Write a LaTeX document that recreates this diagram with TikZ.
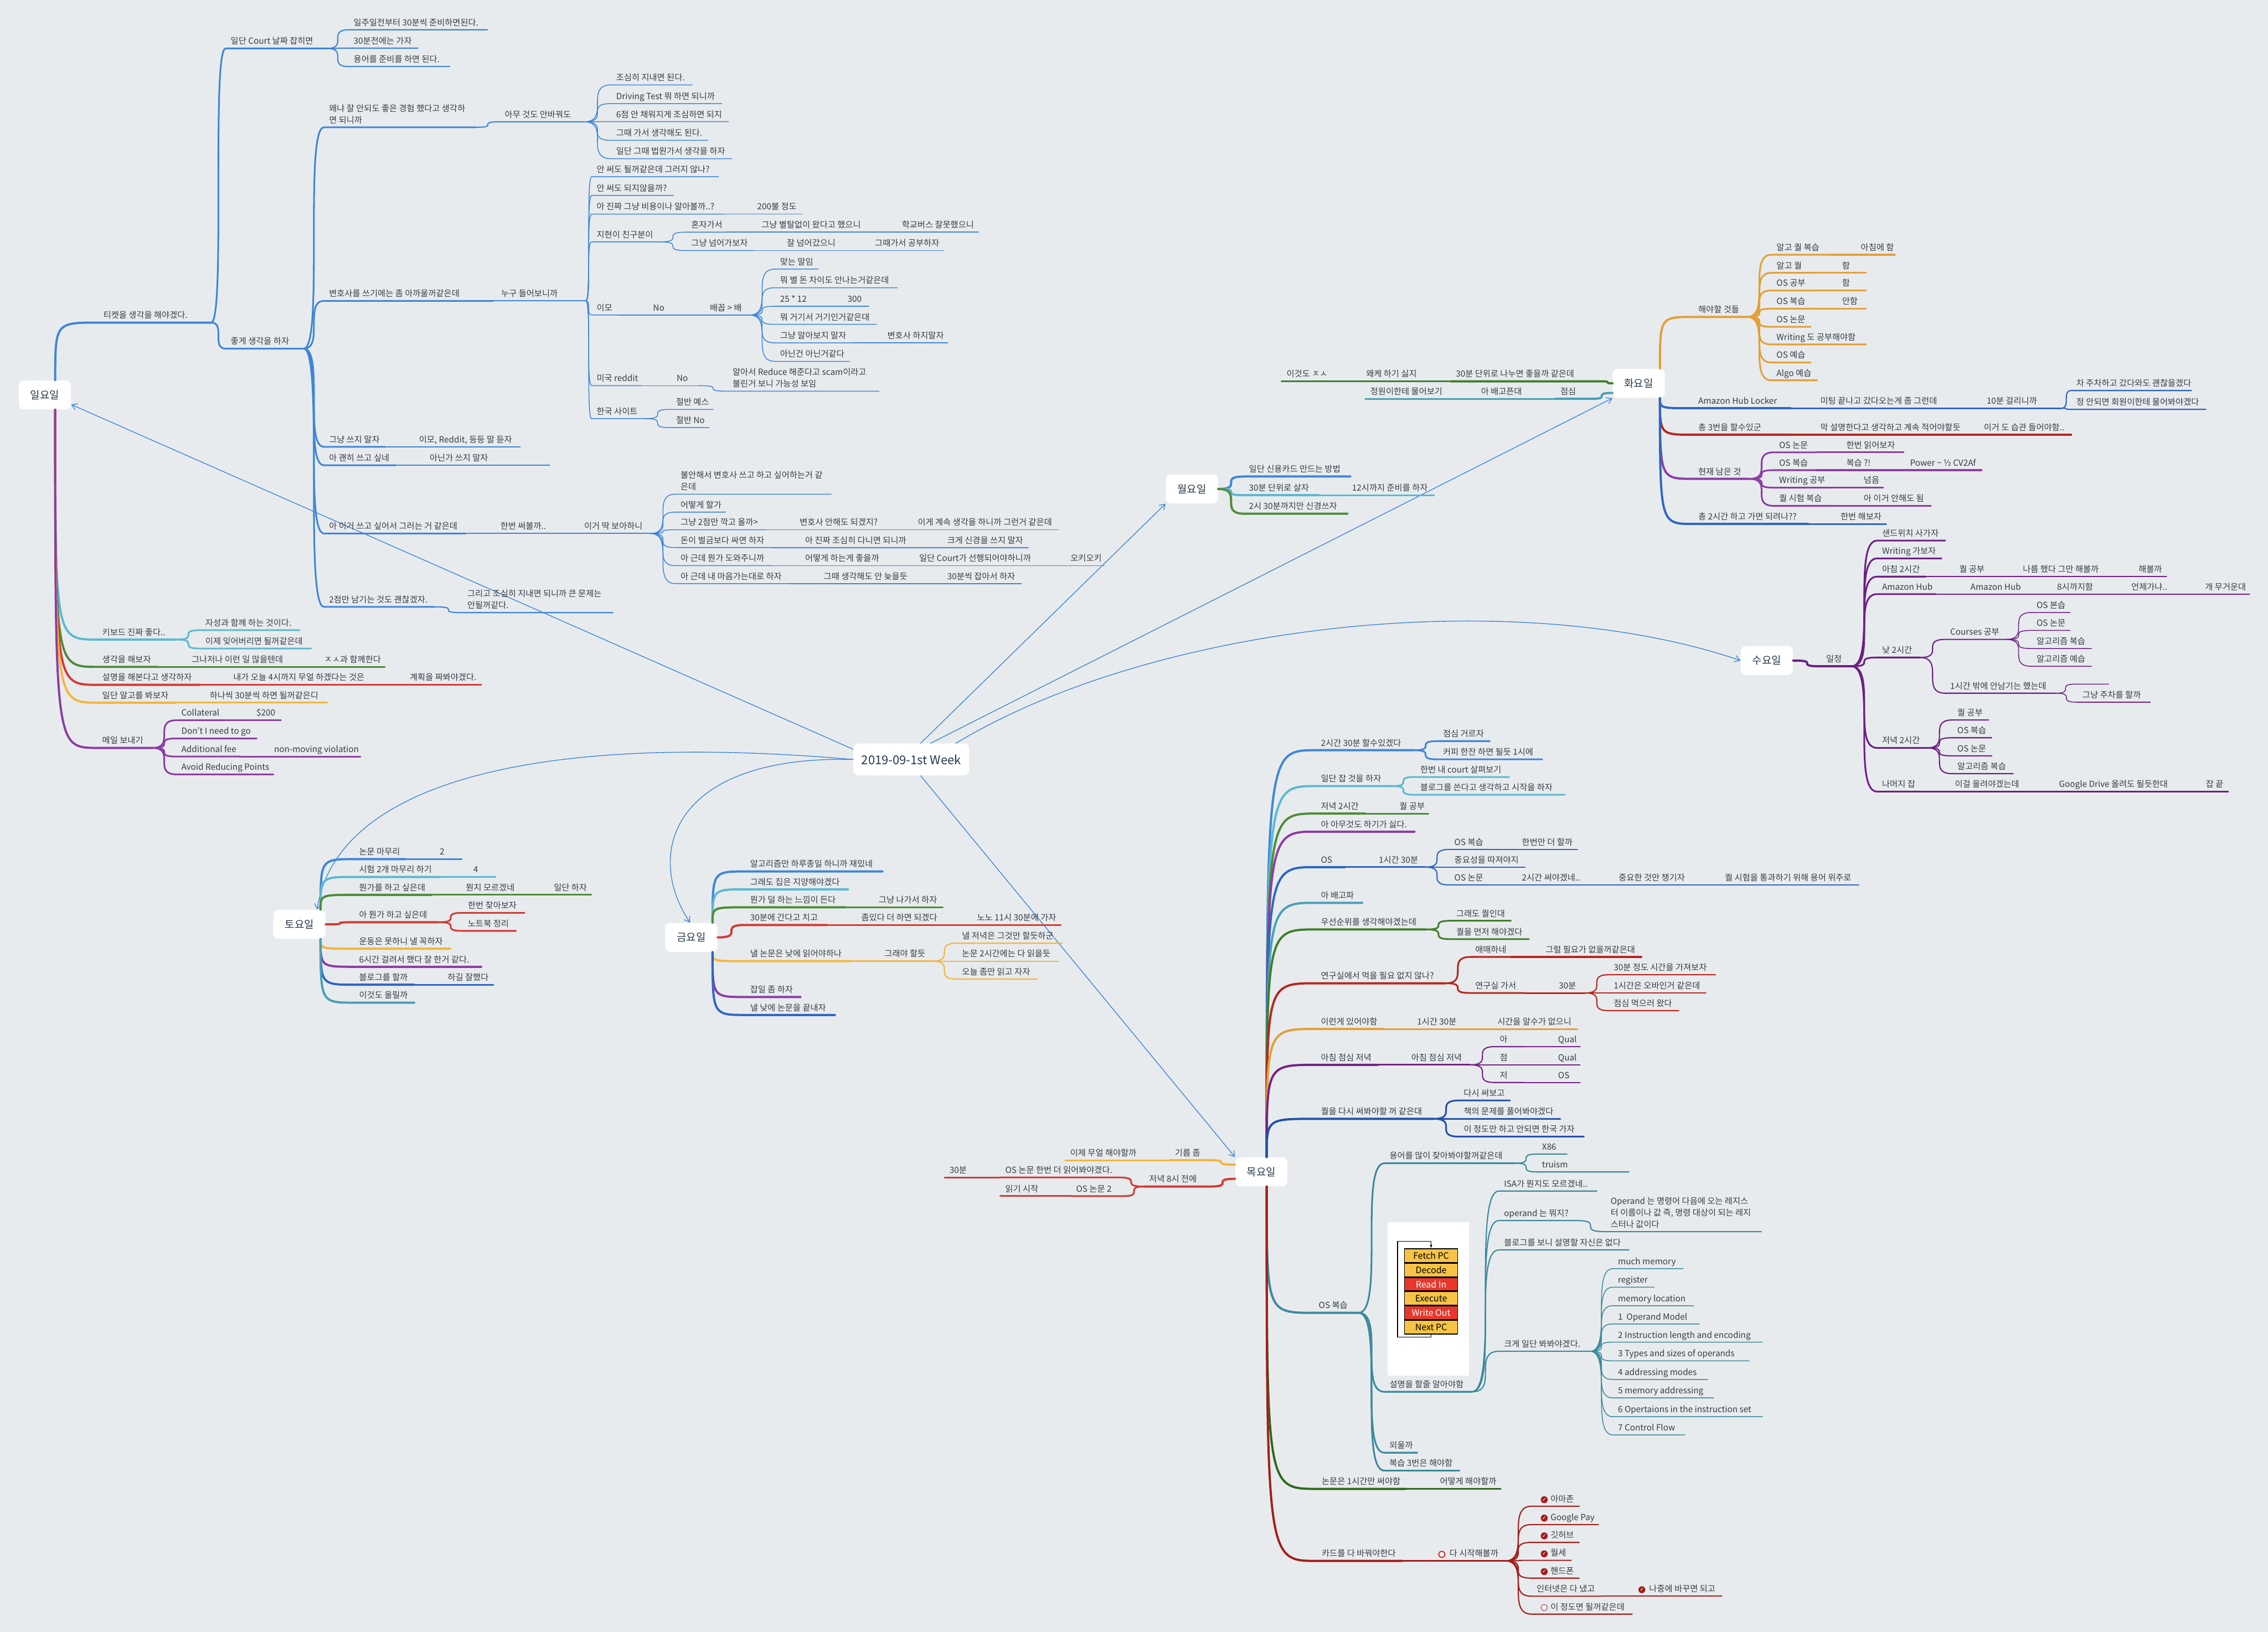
\documentclass[tikz,border=0pt]{standalone}
\usepackage{fontspec}
\setmainfont{Noto Sans CJK KR}
\newfontfamily\symf{DejaVu Sans}
\usepackage{tikz}
\usetikzlibrary{arrows.meta, positioning, calc}
\usepackage{xcolor}
\definecolor{bg}{HTML}{E8EBEE}
\definecolor{ink}{HTML}{353C44}
\definecolor{dayink}{HTML}{27394B}
\definecolor{kblue}{HTML}{3F86D8}
\definecolor{kcyan}{HTML}{5BB9D0}
\definecolor{kgreen}{HTML}{4E8C38}
\definecolor{kred}{HTML}{D23B34}
\definecolor{korange}{HTML}{F3B63E}
\definecolor{kpurple}{HTML}{8C3DA2}
\definecolor{kdblue}{HTML}{2E67C2}
\definecolor{kteal}{HTML}{47A0B6}
\definecolor{torange}{HTML}{E2A037}
\definecolor{tred}{HTML}{B8261E}
\definecolor{tgreen}{HTML}{3E7F2E}
\definecolor{wpurple}{HTML}{6D1F84}
\definecolor{hgreen}{HTML}{3F7F2A}
\definecolor{hpurple}{HTML}{742386}
\definecolor{hdblue}{HTML}{2352A8}
\definecolor{hteal}{HTML}{3A8A9C}
\definecolor{hdgreen}{HTML}{2D6A1E}
\definecolor{hdred}{HTML}{A31F1A}
\definecolor{forange}{HTML}{F6C344}
\definecolor{fred}{HTML}{E8372B}

% topic: line style, from, name, x, y, x end, text
\newcommand\topic[7]{%
  \coordinate (#3s) at (#4,#5);
  \coordinate (#3e) at (#6,#5);
  \node[tp] (#3) at (#3s) {#7};
  \draw[br,#1] (#2) to (#3s) -- (#3e);}
% left-hand topic
\newcommand\ltopic[7]{%
  \coordinate (#3s) at (#4,#5);
  \coordinate (#3e) at (#6,#5);
  \node[tp] (#3) at (#3s) {#7};
  \draw[br,#1] (#2) to (#3e) -- (#3s);}

\begin{document}
\begin{tikzpicture}[
  x=0.03cm, y=-0.03cm,
  line cap=round,
  tp/.style   = {anchor=south west, inner xsep=2.8pt, inner ysep=1.3pt,
                 text depth=0.1em, align=left, text=ink,
                 font=\fontsize{5}{6.9}\selectfont},
  day/.style  = {rectangle, rounded corners=3pt, fill=white,
                 minimum width=1.08cm, minimum height=0.6cm,
                 text=dayink, font=\fontsize{6.2}{7}\selectfont},
  root/.style = {day, minimum width=2.4cm, minimum height=0.66cm,
                 font=\fontsize{7.2}{8}\selectfont},
  br/.style   = {to path={.. controls (\tikztostart -| \tikztotarget)
                 and (\tikztotarget -| \tikztostart) .. (\tikztotarget)}},
  dv/.style   = {to path={.. controls (\tikztostart |- \tikztotarget)
                 .. (\tikztotarget)}},
  w1/.style   = {line width=1.3pt},
  w2/.style   = {line width=1pt},
  w3/.style   = {line width=0.7pt},
  w4/.style   = {line width=0.5pt},
  arr/.style  = {-{Straight Barb[length=3pt,width=4pt]}, line width=0.45pt, kblue},
  chk/.style  = {circle, fill=hdred, text=white, inner sep=0pt,
                 minimum size=0.145cm, font=\symf\fontsize{3}{3}\selectfont},
  ring/.style = {circle, draw=hdred, fill=white, line width=0.3pt,
                 inner sep=0pt, minimum size=0.13cm},
  fbox/.style = {rectangle, draw=black, line width=0.5pt, fill=#1,
                 minimum width=1.1cm, minimum height=0.28cm, inner sep=0pt,
                 font=\fontsize{5.2}{6}\selectfont}
]
\fill[bg] (0,0) rectangle (1568,1128);
\useasboundingbox (0,0) rectangle (1568,1128);

\node[root] (root) at (630,525) {2019-09-1st Week};
\node[day] (sun) at (31,273) {일요일};
\node[day] (sat) at (207,639) {토요일};
\node[day] (fri) at (478,648) {금요일};
\node[day] (mon) at (824,338) {월요일};
\node[day] (tue) at (1133,265) {화요일};
\node[day] (wed) at (1221.5,456.6) {수요일};
\node[day] (thu) at (872,810) {목요일};

\draw[arr] (root.170) -- (sun.-20);
\draw[arr] (root.west) .. controls (360,505) and (232,545) .. (sat.40);
\draw[arr] (root.west) .. controls (465,522) and (445,590) .. (fri.95);
\draw[arr] (root.-60) -- (thu.north west);
\draw[arr] (root.60) -- (mon.south west);
\draw[arr] (root.40) -- (tue.south west);
\draw[arr] (root.20) .. controls (800,430) and (1049,404) .. (wed.west);

% Sunday
\topic{w1,kblue,dv}{sun.55}{su1}{68}{223}{146}{티켓을 생각을 해야겠다.}
\topic{w2,kblue}{su1e}{su11}{156}{33.5}{226}{일단 Court 날짜 잡히면}
\topic{w3,kblue}{su11e}{su111}{241}{20.6}{337}{일주일전부터 30분씩 준비하면된다.}
\topic{w3,kblue}{su11e}{su112}{241}{33.3}{289}{30분전에는 가자}
\topic{w3,kblue}{su11e}{su113}{241}{46}{311}{용어를 준비를 하면 된다.}
\topic{w2,kblue}{su1e}{su12}{156}{241}{210}{좋게 생각을 하자}
\topic{w2,kblue}{su12e}{su121}{224}{88}{329}{왜냐 잘 안되도 좋은 경험 했다고 생각하\\면 되니까}
\topic{w3,kblue}{su121e}{su1211}{345.5}{84.2}{403.6}{아무 것도 안바꿔도}
\topic{w4,kblue}{su1211e}{am1}{422.5}{58.7}{478.6}{조심히 지내면 된다.}
\topic{w4,kblue}{su1211e}{am2}{422.5}{71.6}{499}{Driving Test 뭐 하면 되니까}
\topic{w4,kblue}{su1211e}{am3}{422.5}{84.1}{503.7}{6점 안 채워지게 조심하면 되지}
\topic{w4,kblue}{su1211e}{am4}{422.5}{97}{489.4}{그때 가서 생각해도 된다.}
\topic{w4,kblue}{su1211e}{am5}{422.5}{109.7}{506}{일단 그때 법원가서 생각을 하자}
\topic{w2,kblue}{su12e}{su122}{224}{208}{341}{변호사를 쓰기에는 좀 아까울꺼같은데}
\topic{w3,kblue}{su122e}{nu}{343}{208}{405}{누구 들어보니까}
\topic{w4,kblue}{nue}{nu1}{409}{122.2}{496.8}{안 써도 될꺼같은데 그러지 않나?}
\topic{w4,kblue}{nue}{nu2}{409}{135.1}{465.6}{안 써도 되지않을까?}
\topic{w4,kblue}{nue}{nu3}{409}{148}{500.4}{아 진짜 그냥 비용이나 알아볼까..?}
\topic{w4,kblue}{nu3e}{nu31}{520}{148}{554.6}{200불 정도}
\topic{w4,kblue}{nue}{nu4}{409}{167.2}{456}{지현이 친구분이}
\topic{w4,kblue}{nu4e}{nu41}{474.4}{160.5}{502}{혼자가서}
\topic{w4,kblue}{nu41e}{nu411}{523}{160.5}{600}{그냥 별탈없이 왔다고 했으니}
\topic{w4,kblue}{nu411e}{nu412}{620}{160.5}{676.5}{학교버스 잘못했으니}
\topic{w4,kblue}{nu4e}{nu42}{474.4}{173.2}{521}{그냥 넘어가보자}
\topic{w4,kblue}{nu42e}{nu421}{540.5}{173.2}{581}{잘 넘어갔으니}
\topic{w4,kblue}{nu421e}{nu422}{601.4}{173.2}{652.4}{그때가서 공부하자}
\topic{w4,kblue}{nue}{nu5}{409}{217.8}{428}{이모}
\topic{w4,kblue}{nu5e}{nu51}{448}{217.8}{465}{No}
\topic{w4,kblue}{nu51e}{nu52}{487.3}{217.8}{518}{배꼽 > 배}
\topic{w4,kblue}{nu52e}{bb1}{535.8}{186}{565.6}{맞는 말임}
\topic{w4,kblue}{nu52e}{bb2}{535.8}{198.9}{620.4}{뭐 별 돈 차이도 안나는거같은데}
\topic{w4,kblue}{nu52e}{bb3}{535.8}{211.7}{562}{25 * 12}
\topic{w4,kblue}{bb3e}{bb31}{582.4}{211.7}{600.6}{300}
\topic{w4,kblue}{nu52e}{bb4}{535.8}{224.2}{606}{뭐 거기서 거기인거같은대}
\topic{w4,kblue}{nu52e}{bb5}{535.8}{237}{590}{그냥 알아보지 말자}
\topic{w4,kblue}{bb5e}{bb51}{610}{237}{655.2}{변호사 하지말자}
\topic{w4,kblue}{nu52e}{bb6}{535.8}{249.8}{587.5}{아닌건 아닌거같다}
\topic{w4,kblue}{nue}{nu6}{409}{266.6}{443.6}{미국 reddit}
\topic{w4,kblue}{nu6e}{nu61}{464.3}{266.6}{483}{No}
\topic{w4,kblue}{nu61e}{nu62}{503}{270.4}{607.7}{알아서 Reduce 해준다고 scam이라고\\불린거 보니 가능성 보임}
\topic{w4,kblue}{nue}{nu7}{409}{289.4}{445.5}{한국 사이트}
\topic{w4,kblue}{nu7e}{nu71}{463.8}{283}{493}{절반 예스}
\topic{w4,kblue}{nu7e}{nu72}{463.8}{295.6}{490.3}{절반 No}
\topic{w2,kblue}{su12e}{su123}{224}{308.9}{266.3}{그냥 쓰지 말자}
\topic{w3,kblue}{su123e}{su1231}{286.2}{308.9}{359.7}{이모, Reddit, 등등 말 듣자}
\topic{w2,kblue}{su12e}{su124}{224}{321.6}{273.7}{아 괜히 쓰고 싶네}
\topic{w3,kblue}{su124e}{su1241}{293.6}{321.6}{380}{아닌가 쓰지 말자}
\topic{w2,kblue}{su12e}{su125}{224}{368.8}{321.8}{아 이거 쓰고 싶어서 그러는 거 같은데}
\topic{w3,kblue}{su125e}{su1251}{342.5}{368.8}{380}{한번 써볼까..}
\topic{w3,kblue}{su1251e}{bo}{400.4}{368.8}{449.7}{이거 딱 보아하니}
\topic{w4,kblue}{boe}{bo1}{467}{341.6}{574.7}{불안해서 변호사 쓰고 하고 싶어하는거 같\\은데}
\topic{w4,kblue}{boe}{bo2}{467}{354}{501.6}{어떻게 할가}
\topic{w4,kblue}{boe}{bo3}{467}{366.2}{530}{그냥 2점만 깍고 올까>}
\topic{w4,kblue}{bo3e}{bo31}{549.4}{366.2}{612}{변호사 안해도 되겠지?}
\topic{w4,kblue}{bo31e}{bo32}{631}{366.2}{732}{이게 계속 생각을 하니까 그런거 같은데}
\topic{w4,kblue}{boe}{bo4}{467}{378.5}{534}{돈이 벌금보다 싸면 하자}
\topic{w4,kblue}{bo4e}{bo41}{553.1}{378.5}{632}{아 진짜 조심히 다니면 되니까}
\topic{w4,kblue}{bo41e}{bo42}{651.4}{378.5}{711}{크게 신경을 쓰지 말자}
\topic{w4,kblue}{boe}{bo5}{467}{391}{534}{아 근데 뭔가 도와주니까}
\topic{w4,kblue}{bo5e}{bo51}{553.1}{391}{612}{어떻게 하는게 좋을까}
\topic{w4,kblue}{bo51e}{bo52}{632}{391}{717}{일단 Court가 선행되어야하니까}
\topic{w4,kblue}{bo52e}{bo53}{736.6}{391}{763.6}{오키오키}
\topic{w4,kblue}{boe}{bo6}{467}{403.4}{546}{아 근데 내 마음가는대로 하자}
\topic{w4,kblue}{bo6e}{bo61}{566}{403.4}{632}{그때 생각해도 안 늦을듯}
\topic{w4,kblue}{bo61e}{bo62}{651.4}{403.4}{706.2}{30분씩 잡아서 하자}
\topic{w2,kblue}{su12e}{su126}{224}{419.5}{300.4}{2점만 남기는 것도 괜찮겠자.}
\topic{w3,kblue}{su126e}{su1261}{319.6}{423.5}{423.8}{그리고 조심히 지내면 되니까 큰 문제는\\안될꺼같다.}
\topic{w1,kcyan,dv}{sun.-55}{su2}{67.2}{442.1}{121.9}{키보드 진짜 좋다..}
\topic{w2,kcyan}{su2e}{su21}{138.5}{435.6}{207.2}{자성과 함께 하는 것이다.}
\topic{w2,kcyan}{su2e}{su22}{138.5}{448.3}{215.1}{이제 잊어버리면 될꺼같은데}
\topic{w1,kgreen,dv}{sun.-55}{su3}{67.2}{461}{109}{생각을 해보자}
\topic{w2,kgreen}{su3e}{su31}{129}{461}{200}{그나저나 이런 일 많을텐데}
\topic{w2,kgreen}{su31e}{su32}{220.8}{461}{266.1}{ㅈㅅ과 함께한다}
\topic{w1,kred,dv}{sun.-55}{su4}{67.2}{473.4}{138.2}{설명을 해본다고 생각하자}
\topic{w2,kred}{su4e}{su41}{157.8}{473.4}{259.6}{내가 오늘 4시까지 무얼 하겠다는 것은}
\topic{w2,kred}{su41e}{su42}{279.8}{473.4}{332.7}{계획을 짜봐야겠다.}
\topic{w1,korange,dv}{sun.-55}{su5}{67.2}{485.7}{121.5}{일단 알고를 봐보자}
\topic{w2,korange}{su5e}{su51}{141.5}{485.7}{226.2}{하나씩 30분씩 하면 될꺼같은디}
\topic{w1,kpurple,dv}{sun.-55}{su6}{67.2}{517}{105.2}{메일 보내기}
\topic{w2,kpurple}{su6e}{su61}{121.9}{497.9}{153.4}{Collateral}
\topic{w2,kpurple}{su61e}{su611}{173.8}{497.9}{194.2}{\$200}
\topic{w2,kpurple}{su6e}{su62}{121.9}{510.5}{177.5}{Don't I need to go}
\topic{w2,kpurple}{su6e}{su63}{121.9}{523}{166}{Additional fee}
\topic{w2,kpurple}{su63e}{su631}{186}{523}{249.2}{non-moving violation}
\topic{w2,kpurple}{su6e}{su64}{121.9}{535.3}{189}{Avoid Reducing Points}

% Saturday
\topic{w1,kblue,dv}{sat.35}{sa1}{244.8}{593.9}{280.4}{논문 마무리}
\topic{w2,kblue}{sa1e}{sa11}{300.5}{593.9}{319.3}{2}
\topic{w1,kcyan,dv}{sat.35}{sa2}{244.8}{606.2}{304}{시험 2개 마무리 하기}
\topic{w2,kcyan}{sa2e}{sa21}{323.7}{606.2}{342.7}{4}
\topic{w1,kgreen,dv}{sat.35}{sa3}{244.8}{618.6}{298.6}{뭔가를 하고 싶은데}
\topic{w2,kgreen}{sa3e}{sa31}{318.6}{618.6}{359.3}{뭔지 모르겠네}
\topic{w2,kgreen}{sa31e}{sa32}{379.4}{618.6}{408.8}{일단 하자}
\topic{w1,kred}{sat.east}{sa4}{244.8}{637.5}{303.2}{아 뭔가 하고 싶은데}
\topic{w2,kred}{sa4e}{sa41}{320}{631}{362.6}{한번 찾아보자}
\topic{w2,kred}{sa4e}{sa42}{320}{643.5}{356.7}{노트북 정리}
\topic{w1,korange,dv}{sat.-35}{sa5}{244.8}{655.8}{311.3}{운동은 못하니 낼 꼭하자}
\topic{w1,kpurple,dv}{sat.-35}{sa6}{244.8}{668.3}{332.7}{6시간 걸려서 했다 잘 한거 같다.}
\topic{w1,kdblue,dv}{sat.-35}{sa7}{244.8}{680.7}{286.3}{블로그를 할까}
\topic{w2,kdblue}{sa7e}{sa71}{306}{680.7}{341.1}{하길 잘했다}
\topic{w1,kteal,dv}{sat.-35}{sa8}{244.8}{693.1}{286.3}{이것도 올릴까}

% Friday
\topic{w1,kblue,dv}{fri.35}{fr1}{515.1}{602.4}{610.1}{알고리즘만 하루종일 하니까 재밌네}
\topic{w1,kcyan,dv}{fri.35}{fr2}{515.1}{614.8}{586.3}{그래도 집은 지양해야겠다}
\topic{w1,kgreen,dv}{fri.35}{fr3}{515.1}{627.2}{584.3}{뭔가 덜 하는 느낌이 든다}
\topic{w2,kgreen}{fr3e}{fr31}{604}{627.2}{651.8}{그냥 나가서 하자}
\topic{w1,kred}{fri.east}{fr4}{515.1}{639.4}{571.7}{30분에 간다고 치고}
\topic{w2,kred}{fr4e}{fr41}{592}{639.4}{652}{좀있다 더 하면 되겠다}
\topic{w2,kred}{fr41e}{fr42}{672}{639.4}{733.4}{노노 11시 30분에 가자}
\topic{w1,korange,dv}{fri.-35}{fr5}{515.1}{664.4}{588}{낼 논문은 낮에 읽어야하나}
\topic{w2,korange}{fr5e}{fr51}{608}{664.4}{644.2}{그래야 할듯}
\topic{w3,korange}{fr51e}{fr511}{661.6}{652}{734.2}{낼 저녁은 그것만 할듯하군}
\topic{w3,korange}{fr51e}{fr512}{661.6}{664.4}{732}{논문 2시간에는 다 읽을듯}
\topic{w3,korange}{fr51e}{fr513}{661.6}{676.8}{717.1}{오늘 좀만 읽고 자자}
\topic{w1,kpurple,dv}{fri.-35}{fr6}{515.1}{689.2}{553.4}{잡일 좀 하자}
\topic{w1,kdblue,dv}{fri.-35}{fr7}{515.1}{701.6}{577.2}{낼 낮에 논문을 끝내자}

% Monday
\topic{w1,kblue}{mon.east}{mo1}{860}{329.4}{933.5}{일단 신용카드 만드는 방법}
\topic{w1,kcyan}{mon.east}{mo2}{860}{342.3}{911.7}{30분 단위로 살자}
\topic{w2,kcyan}{mo2e}{mo21}{931.3}{342.3}{991.5}{12시까지 준비를 하자}
\topic{w1,kgreen}{mon.east}{mo3}{860}{355.1}{931.5}{2시 30분까지만 신경쓰자}

% Tuesday
\ltopic{w1,tgreen}{tue.west}{tu1}{1003}{263.6}{1108}{30분 단위로 나누면 좋을까 같은데}
\ltopic{w2,tgreen}{tu1s}{tu11}{941}{263.6}{1003}{왜케 하기 싫지}
\ltopic{w2,tgreen}{tu11s}{tu111}{886}{263.6}{941}{이것도 ㅈㅅ}
\ltopic{w1,kteal}{tue.-160}{tu2}{1075.3}{275.7}{1100}{점심}
\ltopic{w2,kteal}{tu2s}{tu21}{1020.4}{275.7}{1075.3}{아 배고픈대}
\ltopic{w2,kteal}{tu21s}{tu211}{943.9}{275.7}{1020.4}{정원이한테 물어보기}
\topic{w1,torange,dv}{tue.35}{tu3}{1170.6}{219.1}{1208}{해야할 것들}
\topic{w2,torange}{tu3e}{tu31}{1224.7}{176.1}{1266}{알고 퀄 복습}
\topic{w2,torange}{tu31e}{tu311}{1283}{176.1}{1310}{아침에 함}
\topic{w2,torange}{tu3e}{tu32}{1224.7}{188.6}{1254}{알고 퀄}
\topic{w2,torange}{tu32e}{tu321}{1270}{188.6}{1290}{함}
\topic{w2,torange}{tu3e}{tu33}{1224.7}{200.8}{1254}{OS 공부}
\topic{w2,torange}{tu33e}{tu331}{1270}{200.8}{1290}{함}
\topic{w2,torange}{tu3e}{tu34}{1224.7}{213.4}{1254}{OS 복습}
\topic{w2,torange}{tu34e}{tu341}{1270}{213.4}{1290}{안함}
\topic{w2,torange}{tu3e}{tu35}{1224.7}{225.9}{1251.8}{OS 논문}
\topic{w2,torange}{tu3e}{tu36}{1224.7}{238.1}{1290}{Writing 도 공부해야함}
\topic{w2,torange}{tu3e}{tu37}{1224.7}{250.6}{1251.8}{OS 예습}
\topic{w2,torange}{tu3e}{tu38}{1224.7}{262.9}{1256.3}{Algo 예습}
\topic{w1,kdblue,dv}{tue.-35}{tu4}{1170.6}{282.2}{1238}{Amazon Hub Locker}
\topic{w2,kdblue}{tu4e}{tu41}{1255}{282.2}{1352}{미팅 끝나고 갔다오는게 좀 그런데}
\topic{w2,kdblue}{tu41e}{tu42}{1370}{282.2}{1425}{10분 걸리니까}
\topic{w3,kdblue}{tu42e}{tu421}{1432}{270}{1515}{차 주차하고 갔다와도 괜찮을겠다}
\topic{w3,kdblue}{tu42e}{tu422}{1432}{283}{1525}{정 안되면 회원이한테 물어봐야겠다}
\topic{w1,tred,dv}{tue.-35}{tu5}{1170.6}{300.5}{1238}{총 3번을 할수있군}
\topic{w2,tred}{tu5e}{tu51}{1255}{300.5}{1350}{막 설명한다고 생각하고 계속 적어야할듯}
\topic{w2,tred}{tu51e}{tu52}{1368}{300.5}{1432}{이거 도 습관 들어야함..}
\topic{w1,kpurple,dv}{tue.-35}{tu6}{1170.6}{331}{1209.3}{현재 남은 것}
\topic{w2,kpurple}{tu6e}{tu61}{1226.5}{312.7}{1256}{OS 논문}
\topic{w2,kpurple}{tu61e}{tu611}{1273}{312.7}{1316}{한번 읽어보자}
\topic{w2,kpurple}{tu6e}{tu62}{1226.5}{325}{1256}{OS 복습}
\topic{w2,kpurple}{tu62e}{tu621}{1273}{325}{1300}{복습 ?!}
\topic{w2,kpurple}{tu621e}{tu622}{1317}{325}{1370}{Power \textasciitilde{} ½ CV2Af}
\topic{w2,kpurple}{tu6e}{tu63}{1226.5}{337.1}{1266}{Writing 공부}
\topic{w2,kpurple}{tu63e}{tu631}{1285}{337.1}{1302}{넘음}
\topic{w2,kpurple}{tu6e}{tu64}{1226.5}{349.7}{1266}{퀄 시험 복습}
\topic{w2,kpurple}{tu64e}{tu641}{1285}{349.7}{1335}{아 이거 안해도 됨}
\topic{w1,kdblue,dv}{tue.-35}{tu7}{1170.6}{362.2}{1250}{총 2시간 하고 가면 되려나??}
\topic{w2,kdblue}{tu7e}{tu71}{1269}{362.2}{1304}{한번 해보자}

% Wednesday
\topic{w1,wpurple}{wed.east}{we1}{1259}{460.6}{1280}{일정}
\topic{w2,wpurple}{we1e}{we11}{1297.7}{373.7}{1344.8}{샌드위치 사가자}
\topic{w2,wpurple}{we1e}{we12}{1297.7}{386}{1342.2}{Writing 가보자}
\topic{w2,wpurple}{we1e}{we13}{1297.7}{398.6}{1331.3}{아침 2시간}
\topic{w3,wpurple}{we13e}{we131}{1351}{398.6}{1375.3}{퀄 공부}
\topic{w3,wpurple}{we131e}{we132}{1395}{398.6}{1455.3}{나름 했다 그만 해볼까}
\topic{w3,wpurple}{we132e}{we133}{1475}{398.6}{1497.8}{해볼까}
\topic{w2,wpurple}{we1e}{we14}{1297.7}{410.7}{1338.4}{Amazon Hub}
\topic{w3,wpurple}{we14e}{we141}{1358.8}{410.7}{1398.9}{Amazon Hub}
\topic{w3,wpurple}{we141e}{we142}{1418.7}{410.7}{1450.3}{8시까지함}
\topic{w3,wpurple}{we142e}{we143}{1470}{410.7}{1501}{언제가냐..}
\topic{w3,wpurple}{we143e}{we144}{1521}{410.7}{1555.2}{개 무거운대}
\topic{w2,wpurple}{we1e}{we15}{1297.7}{454.5}{1327.4}{낮 2시간}
\topic{w3,wpurple}{we15e}{we151}{1344.8}{442}{1386.7}{Courses 공부}
\topic{w4,wpurple}{we151e}{we1511}{1404.5}{423.4}{1431.2}{OS 본습}
\topic{w4,wpurple}{we151e}{we1512}{1404.5}{435.8}{1431.2}{OS 논문}
\topic{w4,wpurple}{we151e}{we1513}{1404.5}{448.3}{1446}{알고리즘 복습}
\topic{w4,wpurple}{we151e}{we1514}{1404.5}{460.6}{1446}{알고리즘 예습}
\topic{w3,wpurple}{we15e}{we152}{1344.8}{479.2}{1421}{1시간 밖에 안남기는 했는데}
\topic{w4,wpurple}{we152e}{we1521}{1435}{472.9}{1457.8}{}
\topic{w4,wpurple}{we152e}{we1522}{1436.2}{485.4}{1486.6}{그냥 주차를 할까}
\topic{w2,wpurple}{we1e}{we16}{1297.7}{517}{1332}{저녁 2시간}
\topic{w3,wpurple}{we16e}{we161}{1349.7}{497.7}{1374.8}{퀄 공부}
\topic{w3,wpurple}{we16e}{we162}{1349.7}{510}{1377}{OS 복습}
\topic{w3,wpurple}{we16e}{we163}{1349.7}{522.5}{1377}{OS 논문}
\topic{w3,wpurple}{we16e}{we164}{1349.7}{534.8}{1391.8}{알고리즘 복습}
\topic{w2,wpurple}{we1e}{we17}{1297.7}{547.2}{1328}{나머지 잡}
\topic{w3,wpurple}{we17e}{we171}{1348}{547.2}{1400}{이걸 올려야겠는데}
\topic{w3,wpurple}{we171e}{we172}{1420}{547.2}{1501.6}{Google Drive 올려도 될듯한대}
\topic{w3,wpurple}{we172e}{we173}{1521.5}{547.2}{1540.5}{잡 끝}

% Thursday, left side
\ltopic{w1,korange}{thu.165}{tl1}{808.8}{802}{835}{기름 좀}
\ltopic{w2,korange}{tl1s}{tl11}{736.4}{802}{808.8}{이제 무얼 해야할까}
\ltopic{w1,kred}{thu.-165}{tl2}{791}{820.2}{836.6}{저녁 8시 전에}
\ltopic{w2,kred}{tl2s}{tl21}{691.5}{813.9}{773}{OS 논문 한번 더 읽어봐야겠다.}
\ltopic{w2,kred}{tl21s}{tl211}{653}{813.9}{691.5}{30분}
\ltopic{w2,kred}{tl2s}{tl22}{740.5}{826.8}{777}{OS 논문 2}
\ltopic{w2,kred}{tl22s}{tl221}{691.5}{826.8}{740.5}{읽기 시작}

% Thursday, right side
\topic{w1,kblue,dv}{thu.70}{th3}{909.7}{518.6}{977.1}{2시간 30분 할수있겠다}
\topic{w2,kblue}{th3e}{th31}{994.1}{512.3}{1030}{점심 거르자}
\topic{w2,kblue}{th3e}{th32}{994.1}{524.9}{1066.2}{커피 한잔 하면 될듯 1시에}
\topic{w1,kcyan,dv}{thu.70}{th4}{909.7}{543.4}{962.1}{일단 잡 것을 하자}
\topic{w2,kcyan}{th4e}{th41}{978.4}{537.1}{1043.4}{한번 내 court 살펴보기}
\topic{w2,kcyan}{th4e}{th42}{978.4}{549.4}{1081.9}{블로그를 쓴다고 생각하고 시작을 하자}
\topic{w1,kgreen,dv}{thu.70}{th5}{909.7}{562.4}{944}{저녁 2시간}
\topic{w2,kgreen}{th5e}{th51}{964}{562.4}{987.6}{퀄 공부}
\topic{w1,kpurple,dv}{thu.70}{th6}{909.7}{574.9}{977.9}{아 아무것도 하기가 싫다.}
\topic{w1,kdblue,dv}{thu.70}{th7}{909.7}{599.4}{930}{OS}
\topic{w2,kdblue}{th7e}{th70}{949.7}{599.4}{985}{1시간 30분}
\topic{w3,kdblue}{th70e}{th71}{1002}{587.2}{1028.7}{OS 복습}
\topic{w3,kdblue}{th71e}{th711}{1048.7}{587.2}{1090.6}{한번만 더 할까}
\topic{w3,kdblue}{th70e}{th72}{1002}{599.4}{1054.4}{중요성을 따져야지}
\topic{w3,kdblue}{th70e}{th73}{1002}{611.7}{1028.7}{OS 논문}
\topic{w3,kdblue}{th73e}{th731}{1048.7}{611.7}{1095.6}{2시간 써야겠네..}
\topic{w3,kdblue}{th731e}{th732}{1115.6}{611.7}{1168.3}{중요한 것만 챙기자}
\topic{w3,kdblue}{th732e}{th733}{1189}{611.7}{1285}{퀄 시험을 통과하기 위해 용어 위주로}
\topic{w1,kteal,dv}{thu.70}{th8}{909.7}{624.1}{941.7}{아 배고파}
\topic{w1,hgreen,dv}{thu.70}{th9}{909.7}{642.5}{985.7}{우선순위를 생각해야겠는데}
\topic{w2,hgreen}{th9e}{th91}{1003.3}{636.5}{1044.5}{그래도 퀄인대}
\topic{w2,hgreen}{th9e}{th92}{1003.3}{649.2}{1057}{퀄을 먼저 해야겠다}
\topic{w1,tred,dv}{thu.70}{th10}{909.7}{679.7}{999.3}{연구실에서 먹을 필요 없지 않나?}
\topic{w2,tred}{th10e}{th101}{1016.4}{661.5}{1044.6}{애매하네}
\topic{w2,tred}{th101e}{th1011}{1065}{661.5}{1134.8}{그럴 필요가 없을꺼같은대}
\topic{w2,tred}{th10e}{th102}{1016.4}{686.4}{1053.9}{연구실 가서}
\topic{w2,tred}{th102e}{th1021}{1074.2}{686.4}{1095.8}{30분}
\topic{w3,tred}{th1021e}{th1022}{1112.1}{673.8}{1186}{30분 정도 시간을 가져보자}
\topic{w3,tred}{th1021e}{th1023}{1112.1}{686.4}{1179.4}{1시간은 오바인거 같은데}
\topic{w3,tred}{th1021e}{th1024}{1112.1}{698.6}{1160.5}{점심 먹으러 왔다}
\topic{w1,torange,dv}{thu.70}{th11}{909.7}{711.3}{956.7}{이런게 있어야함}
\topic{w2,torange}{th11e}{th111}{976.2}{711.3}{1011.3}{1시간 30분}
\topic{w2,torange}{th111e}{th112}{1031.7}{711.3}{1090.6}{시간을 알수가 없으니}
\topic{w1,hpurple,dv}{thu.70}{th12}{909.7}{736.1}{952.7}{아침 점심 저녁}
\topic{w2,hpurple}{th12e}{th120}{972.2}{736.1}{1016.4}{아침 점심 저녁}
\topic{w3,hpurple}{th120e}{th121}{1033.4}{723.5}{1053.2}{아}
\topic{w3,hpurple}{th121e}{th1211}{1073.7}{723.5}{1092.4}{Qual}
\topic{w3,hpurple}{th120e}{th122}{1033.4}{736.1}{1053.2}{점}
\topic{w3,hpurple}{th122e}{th1221}{1073.7}{736.1}{1092.4}{Qual}
\topic{w3,hpurple}{th120e}{th123}{1033.4}{748.3}{1053.2}{저}
\topic{w3,hpurple}{th123e}{th1231}{1073.7}{748.3}{1092.4}{OS}
\topic{w1,hdblue,dv}{thu.70}{th13}{909.7}{773.4}{991}{퀄을 다시 써봐야할 꺼 같은대}
\topic{w2,hdblue}{th13e}{th131}{1008.5}{760.7}{1044}{다시 써보고}
\topic{w2,hdblue}{th13e}{th132}{1008.5}{773.4}{1078.7}{책의 문제를 풀어봐야겠다}
\topic{w2,hdblue}{th13e}{th133}{1008.5}{785.7}{1095}{이 정도만 하고 안되면 한국 가자}
\topic{w1,hteal,dv}{thu.-70}{th14}{908.2}{907.5}{939.3}{OS 복습}
\topic{w2,hteal}{th14e}{th141}{957.2}{804.1}{1047.5}{용어를 많이 찾아봐야할꺼같은데}
\topic{w3,hteal}{th141e}{th1411}{1062.6}{797.8}{1083.3}{X86}
\topic{w3,hteal}{th141e}{th1412}{1062.6}{810.1}{1126.2}{truism}
\topic{w2,hteal}{th14e}{th142}{957.2}{962.1}{1017.6}{설명을 할줄 알아야함}
\topic{w3,hteal}{th142e}{th1421}{1036.3}{823.3}{1104}{ISA가 뭔지도 모르겠네..}
\topic{w3,hteal}{th142e}{th1422}{1036.3}{843.7}{1089.2}{operand 는 뭐지?}
\topic{w3,hteal}{th1422e}{th1423}{1110}{851.4}{1217.7}{Operand 는 명령어 다음에 오는 레지스\\터 이름이나 값 즉, 명령 대상이 되는 레지\\스터나 값이다}
\topic{w3,hteal}{th142e}{th1424}{1036.3}{864}{1126.2}{블로그를 보니 설명할 자신은 없다}
\topic{w3,hteal}{th142e}{th1425}{1036.3}{934.1}{1099.2}{크게 일단 봐봐야겠다.}
\topic{w4,hteal}{th1425e}{k1}{1115.1}{877}{1163.6}{much memory}
\topic{w4,hteal}{th1425e}{k2}{1115.1}{889.8}{1143.7}{register}
\topic{w4,hteal}{th1425e}{k3}{1115.1}{902.6}{1170.8}{memory location}
\topic{w4,hteal}{th1425e}{k4}{1115.1}{915.2}{1174.7}{1\ \ Operand Model}
\topic{w4,hteal}{th1425e}{k5}{1115.1}{927.8}{1218.5}{2 Instruction length and encoding}
\topic{w4,hteal}{th1425e}{k6}{1115.1}{940.7}{1209.3}{3 Types and sizes of operands}
\topic{w4,hteal}{th1425e}{k7}{1115.1}{953.6}{1180.7}{4 addressing modes}
\topic{w4,hteal}{th1425e}{k8}{1115.1}{966.3}{1184.7}{5 memory addressing}
\topic{w4,hteal}{th1425e}{k9}{1115.1}{979.3}{1218.5}{6 Opertaions in the instruction set}
\topic{w4,hteal}{th1425e}{k10}{1115.1}{991.9}{1164.8}{7 Control Flow}
\topic{w2,hteal}{th14e}{th143}{957.1}{1004.2}{979.9}{외울까}
\topic{w2,hteal}{th14e}{th144}{957.1}{1016.6}{1009}{복습 3번은 해야함}
\topic{w1,hdgreen,dv}{thu.-70}{th15}{910.3}{1029.2}{972}{논문은 1시간만 써야함}
\topic{w2,hdgreen}{th15e}{th151}{992}{1029.2}{1037.5}{어떻게 해야할까}
\topic{w1,hdred,dv}{thu.-70}{th16}{910.3}{1079}{969.3}{카드를 다 바꿔야한다}
\topic{w2,hdred}{th16e}{th161}{989}{1079}{1040.5}{\hspace*{2.9mm}다 시작해볼까}
\topic{w3,hdred}{th161e}{c1}{1058.8}{1041.2}{1091.8}{\hspace*{2.9mm}아마존}
\topic{w3,hdred}{th161e}{c2}{1058.8}{1053.9}{1105}{\hspace*{2.9mm}Google Pay}
\topic{w3,hdred}{th161e}{c3}{1058.8}{1066.2}{1091.8}{\hspace*{2.9mm}깃허브}
\topic{w3,hdred}{th161e}{c4}{1058.8}{1078.6}{1086.3}{\hspace*{2.9mm}월세}
\topic{w3,hdred}{th161e}{c5}{1058.8}{1090.9}{1091.8}{\hspace*{2.9mm}핸드폰}
\topic{w3,hdred}{th161e}{c6}{1058.8}{1103.4}{1107.2}{인터넷은 다 냈고}
\topic{w3,hdred}{c6e}{c61}{1127}{1103.4}{1190.4}{\hspace*{2.9mm}나중에 바꾸면 되고}
\topic{w3,hdred}{th161e}{c7}{1058.8}{1115.8}{1128.4}{\hspace*{2.9mm}이 정도면 될꺼같은데}
\node[ring, line width=0.7pt, draw=kred] (rg0) at (996.8,1074.5) {};
\node[chk] (ck1) at (1067.6,1036.7) {✓};
\node[chk] (ck2) at (1067.6,1049.4) {✓};
\node[chk] (ck3) at (1067.6,1061.7) {✓};
\node[chk] (ck4) at (1067.6,1074.1) {✓};
\node[chk] (ck5) at (1067.6,1086.4) {✓};
\node[chk] (ck6) at (1135.1,1098.9) {✓};
\node[ring] (rg1) at (1067.6,1111.3) {};

% picture above the topic
\node[fill=white, minimum width=1.69cm, minimum height=3.18cm] (img) at (987.4,897.8) {};
\node[fbox=forange] (f1) at (989.4,867.9) {Fetch PC};
\node[fbox=forange, below=0pt of f1] (f2) {Decode};
\node[fbox=fred, text=white, below=0pt of f2] (f3) {Read In};
\node[fbox=forange, below=0pt of f3] (f4) {Execute};
\node[fbox=fred, text=white, below=0pt of f4] (f5) {Write Out};
\node[fbox=forange, below=0pt of f5] (f6) {Next PC};
\coordinate (lpa) at (966.3,924.3);
\coordinate (lpb) at (966.3,858);
\draw[line width=0.5pt, -{Latex[length=2pt]}] (f6.south) |- (lpa) -- (lpb) -| (f1.north);
\end{tikzpicture}
\end{document}
